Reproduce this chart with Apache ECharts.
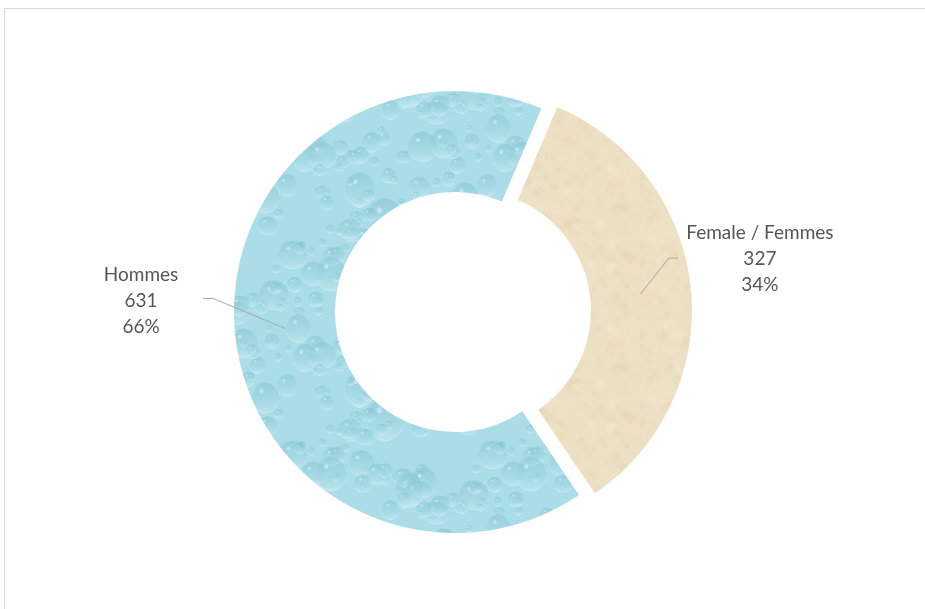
<!DOCTYPE html>
<html>
<head>
<meta charset="utf-8">
<script src="https://cdn.jsdelivr.net/npm/echarts@6/dist/echarts.min.js"></script>
<style>
  html, body { margin: 0; padding: 0; background: #fff; }
  #frame { position: absolute; left: 4px; top: 8px; width: 1000px; height: 1000px; border: 1px solid #d9d9d9; }
  #main { position: absolute; left: 0; top: 0; width: 925px; height: 609px; }
</style>
</head>
<body>
<div id="frame"></div>
<div id="main"></div>
<script>
// data
var categories = ['Female / Femmes', 'Hommes'];
var counts = [327, 631];

// pie geometry
var center = [455, 312];
var radii = [120, 221];
var startAngle = 67;
var explode = 16;   // Female slice pulled out

// texture: water drops
function dropsTexture() {
    var S = 200;
    var c = document.createElement('canvas');
    c.width = S; c.height = S;
    var g = c.getContext('2d');
    g.fillStyle = '#aadde7';
    g.fillRect(0, 0, S, S);
    var seed = 11;
    function rnd() { seed = (seed * 16807) % 2147483647; return seed / 2147483647; }
    for (var i = 0; i < 110; i++) {
        var x = rnd() * S, y = rnd() * S, r = 3 + rnd() * rnd() * 16;
        var sq = 0.75 + rnd() * 0.5;
        for (var ox = -S; ox <= S; ox += S) {
            for (var oy = -S; oy <= S; oy += S) {
                var px = x + ox, py = y + oy;
                if (px < -r * 1.5 || px > S + r * 1.5 || py < -r * 1.5 || py > S + r * 1.5) continue;
                g.save();
                g.translate(px, py);
                g.scale(1, sq);
                var grd = g.createLinearGradient(0, -r, 0, r);
                grd.addColorStop(0, 'rgba(120,188,204,0.45)');
                grd.addColorStop(0.6, 'rgba(155,210,222,0.3)');
                grd.addColorStop(1, 'rgba(215,242,247,0.45)');
                g.fillStyle = grd;
                g.beginPath(); g.arc(0, 0, r, 0, Math.PI * 2); g.fill();
                g.strokeStyle = 'rgba(225,246,250,0.4)';
                g.lineWidth = 0.8;
                g.beginPath(); g.arc(0, 0, r, 0.3, Math.PI - 0.3); g.stroke();
                g.fillStyle = 'rgba(240,252,254,0.45)';
                g.beginPath(); g.arc(-r * 0.3, -r * 0.45, Math.max(0.7, r * 0.14), 0, Math.PI * 2); g.fill();
                g.restore();
            }
        }
    }
    return c;
}

// texture: parchment
function paperTexture() {
    var S = 160;
    var c = document.createElement('canvas');
    c.width = S; c.height = S;
    var g = c.getContext('2d');
    g.fillStyle = '#eee0c3';
    g.fillRect(0, 0, S, S);
    var seed = 5;
    function rnd() { seed = (seed * 16807) % 2147483647; return seed / 2147483647; }
    for (var i = 0; i < 400; i++) {
        var x = rnd() * S, y = rnd() * S, r = 1 + rnd() * 5;
        g.fillStyle = rnd() < 0.5 ? 'rgba(214,192,150,0.08)' : 'rgba(250,244,230,0.1)';
        g.beginPath(); g.arc(x, y, r, 0, Math.PI * 2); g.fill();
    }
    return c;
}

var fills = [
    { image: paperTexture(), repeat: 'repeat' },
    { image: dropsTexture(), repeat: 'repeat' }
];

// label placement relative to the slice's outer mid point
var labelOffsets = {
    right: { text: [69, -30], bend: [-22, -31], end: [-13, -31] },
    left: { text: [-94, -33], bend: [-22, -35], end: [-32, -35] }
};

var total = counts.reduce(function (s, v) { return s + v; }, 0);

function midDir(i) {
    var before = 0;
    for (var k = 0; k < i; k++) before += counts[k];
    var mid = (startAngle - 360 * (before + counts[i] / 2) / total) * Math.PI / 180;
    return [Math.cos(mid), -Math.sin(mid)];
}

function sliceCenter(i) {
    var d = midDir(i);
    var off = i === 0 ? explode : 0;
    return [center[0] + d[0] * off, center[1] + d[1] * off];
}

function sliceAnchor(i) {
    var d = midDir(i);
    var c = sliceCenter(i);
    var rMid = (radii[0] + radii[1]) / 2;
    return {
        outer: [c[0] + d[0] * radii[1], c[1] + d[1] * radii[1]],
        inner: [c[0] + d[0] * rMid, c[1] + d[1] * rMid],
        left: d[0] < 0
    };
}

// one pie per visible slice so the Female slice can sit on its own shifted centre
function sliceData(visibleIndex) {
    return categories.map(function (name, i) {
        return {
            name: name,
            value: counts[i],
            itemStyle: { color: i === visibleIndex ? fills[i] : 'rgba(0,0,0,0)' }
        };
    });
}

var base = {
    type: 'pie',
    radius: radii,
    startAngle: startAngle,
    clockwise: true,
    silent: true,
    label: { show: false },
    labelLine: { show: false },
    itemStyle: { borderWidth: 0 },
    emphasis: { disabled: true }
};

var chart = echarts.init(document.getElementById('main'));

var series = categories.map(function (name, i) {
    return Object.assign({}, base, {
        name: name,
        z: 2,
        center: sliceCenter(i),
        data: sliceData(i)
    });
});

// label layer on top
series.push(Object.assign({}, base, {
    name: 'labels',
    z: 10,
    center: center,
    percentPrecision: 0,
    avoidLabelOverlap: false,
    itemStyle: { color: 'rgba(0,0,0,0)', borderWidth: 0 },
    label: {
        show: true,
        position: 'outside',
        formatter: '{b}\n{c}\n{d}%',
        fontFamily: 'Lato',
        fontSize: 19,
        lineHeight: 26,
        color: '#555555',
        align: 'center'
    },
    labelLine: {
        show: true,
        showAbove: true,
        length: 20,
        length2: 20,
        lineStyle: { color: '#a6a6a6', width: 1 }
    },
    labelLayout: function (p) {
        var an = sliceAnchor(p.dataIndex);
        var a = an.outer;
        var o = an.left ? labelOffsets.left : labelOffsets.right;
        return {
            x: a[0] + o.text[0], y: a[1] + o.text[1],
            align: 'center', verticalAlign: 'middle',
            labelLinePoints: [
                an.inner,
                [a[0] + o.bend[0], a[1] + o.bend[1]],
                [a[0] + o.end[0], a[1] + o.end[1]]
            ]
        };
    },
    data: categories.map(function (name, i) { return { name: name, value: counts[i] }; })
}));

chart.setOption({ animation: false, series: series });
</script>
</body>
</html>
